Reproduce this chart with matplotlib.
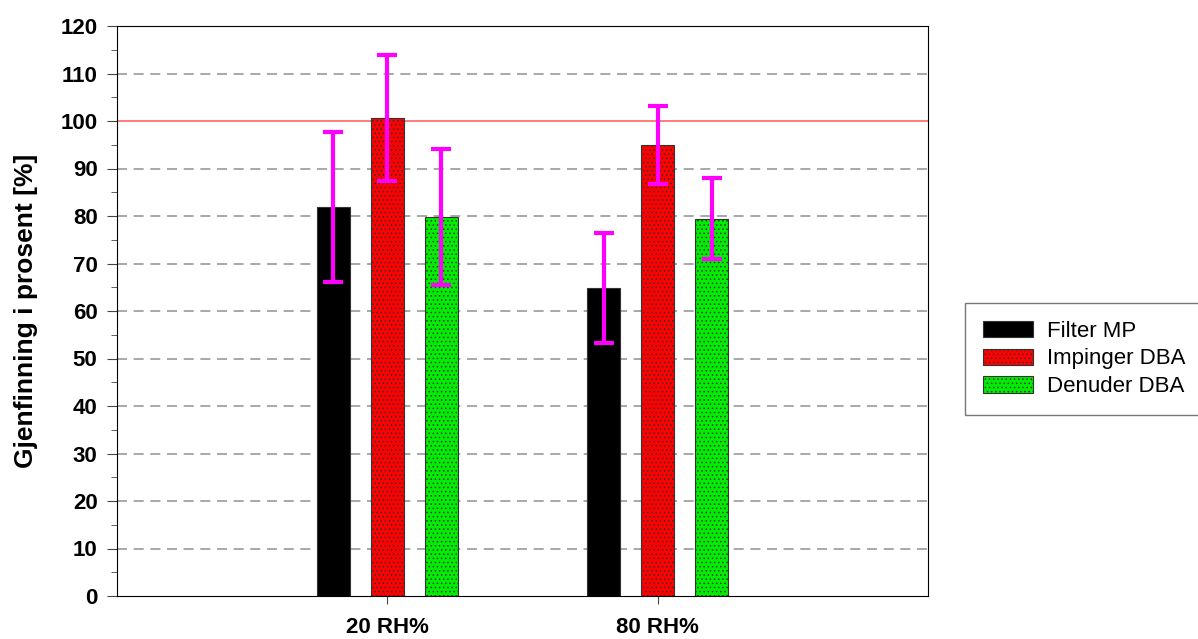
import matplotlib
matplotlib.use('Agg')
import matplotlib.pyplot as plt
import numpy as np

# data
categories = ['20 RH%', '80 RH%']
series = ['Filter MP', 'Impinger DBA', 'Denuder DBA']
means = {
    'Filter MP': [81.9, 64.8],
    'Impinger DBA': [100.6, 94.9],
    'Denuder DBA': [79.8, 79.4],
}
errors = {
    'Filter MP': [15.7, 11.6],
    'Impinger DBA': [13.2, 8.2],
    'Denuder DBA': [14.4, 8.5],
}
colors = {'Filter MP': 'black', 'Impinger DBA': '#ff0000', 'Denuder DBA': '#00ee00'}
hatches = {'Filter MP': None, 'Impinger DBA': '....', 'Denuder DBA': '....'}

plt.rcParams['font.family'] = ['Liberation Sans', 'DejaVu Sans']
plt.rcParams['hatch.linewidth'] = 0.6

fig = plt.figure(figsize=(11.98, 6.39), dpi=100)
ax = fig.add_axes([117/1198, 1 - 596/639, (928-117)/1198, (596-26)/639])

x = np.arange(len(categories))
width = 0.122
offsets = [-0.2, 0.0, 0.2]

# grid lines
for yv in range(10, 120, 10):
    if yv == 100:
        continue
    ax.axhline(yv, color='#999999', linestyle=(0, (6, 4)), linewidth=1.2, zorder=0)
ax.axhline(100, color='#ff6666', linewidth=1.2, zorder=0)

for s, off in zip(series, offsets):
    ax.bar(x + off, means[s], width, color=colors[s], edgecolor='#333333',
           hatch=hatches[s], linewidth=0.8, label=s, zorder=2)
    ax.errorbar(x + off, means[s], yerr=errors[s], fmt='none', ecolor='#ff00ff',
                elinewidth=3, capsize=7.5, capthick=3, zorder=3)

ax.set_xlim(-1, 2)
ax.set_ylim(0, 120)
ax.set_yticks(np.arange(0, 121, 10))
ax.set_yticks(np.arange(5, 120, 10), minor=True)
ax.set_xticks(x)
ax.set_xticklabels(categories, fontsize=16, fontweight='bold')
for lab in ax.get_yticklabels():
    lab.set_fontsize(16)
    lab.set_fontweight('bold')
ax.tick_params(axis='y', which='major', length=7, direction='out', pad=7, color='#444444')
ax.tick_params(axis='y', which='minor', length=4, direction='out', color='#444444')
ax.tick_params(axis='x', length=6, direction='out', pad=9, color='#444444')
ax.set_ylabel('Gjenfinning i prosent [%]', fontsize=19, fontweight='bold', labelpad=16)

leg = fig.legend(loc='upper left', bbox_to_anchor=(965/1198, 1 - 303/639),
                 fontsize=16, frameon=True, fancybox=False, edgecolor='#555555',
                 borderaxespad=0, handlelength=2.25, handleheight=0.75,
                 borderpad=0.8, labelspacing=0.3, handletextpad=0.63)

plt.savefig('out.png', dpi=100)
